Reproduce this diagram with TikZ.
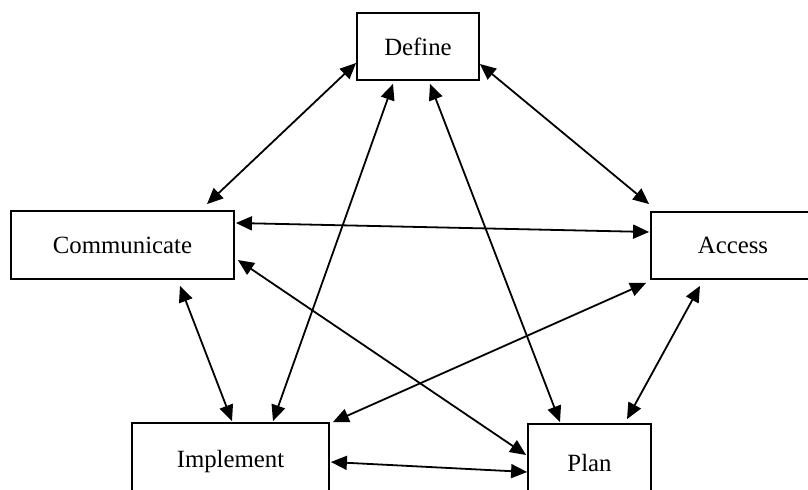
\documentclass[tikz,border=0pt]{standalone}
\usepackage{fontspec}
\setmainfont{Liberation Serif}
\usepackage{tikz}
\usetikzlibrary{arrows.meta,calc}

\begin{document}
\begin{tikzpicture}[x=0.5pt,y=-0.5pt,
    box/.style={draw,line width=0.9pt,inner sep=0pt,font=\fontsize{12.4}{14}\selectfont},
    lien/.style={{Triangle[length=8pt,width=7pt]}-{Triangle[length=8pt,width=7pt]},line width=0.9pt}]
    % Cycle de projet
    \useasboundingbox (0,0) rectangle (808,490);
    \node[box,minimum width=61pt,minimum height=33.5pt] (define) at (418,46.5) {Define};
    \node[box,minimum width=111.5pt,minimum height=34pt] (comm) at (122.5,245) {Communicate};
    \node[box,minimum width=82pt,minimum height=33.5pt] (access) at (733,245.5) {Access};
    \node[box,minimum width=98.5pt,minimum height=39pt] (impl) at (230.5,462) {Implement};
    \node[box,minimum width=61.5pt,minimum height=39pt] (plan) at (589.5,463) {Plan};

    \draw[lien] ($(define.west)+(0,16.5)$) -- ($(comm.north)+(84.5,-6)$);
    \draw[lien] ($(define.east)+(0,17.5)$) -- ($(access.north west)+(-1,-7)$);
    \draw[lien] ($(comm.east)+(1,-22)$) -- ($(access.west)+(-1,-13.5)$);
    \draw[lien] ($(comm.south)+(57.5,6)$) -- ($(impl.north)+(1.5,-1)$);
    \draw[lien] ($(define.south)+(-25,3)$) -- ($(impl.north)+(42.5,-1)$);
    \draw[lien] ($(define.south)+(12,3)$) -- ($(plan.north)+(-29.5,-1)$);
    \draw[lien] ($(access.south west)+(-4,3)$) -- ($(impl.north east)+(3,0)$);
    \draw[lien] ($(access.south)+(-33,6)$) -- ($(plan.north)+(37.5,-4)$);
    \draw[lien] ($(comm.east)+(3,15)$) -- ($(plan.west)+(-1,-8)$);
    \draw[lien] ($(impl.east)+(1,0)$) -- ($(plan.west)+(0,9)$);
\end{tikzpicture}
\end{document}
